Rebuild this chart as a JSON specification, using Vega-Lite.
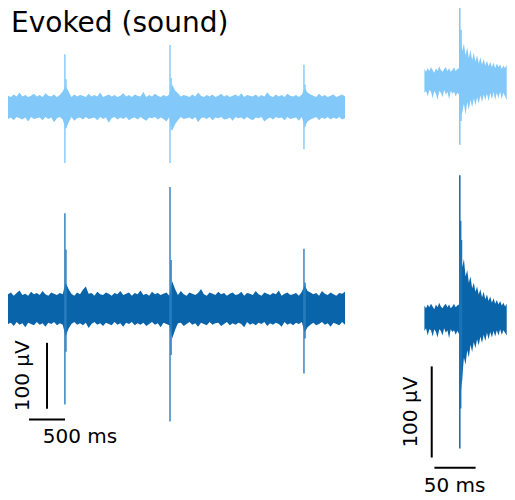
{
  "$schema": "https://vega.github.io/schema/vega-lite/v6.json",
  "padding": {"left": 8, "top": 7, "right": 0, "bottom": 0},
  "config": {"view": {"stroke": null}, "font": "DejaVu Sans"},
  "datasets": {
    "leftLight": [
      {"t":0,"lo":-18,"hi":17},{"t":40,"lo":-16,"hi":15},{"t":80,"lo":-20,"hi":19},{"t":120,"lo":-15,"hi":16},{"t":160,"lo":-17,"hi":22},
      {"t":200,"lo":-19,"hi":16},{"t":240,"lo":-16,"hi":18},{"t":280,"lo":-22,"hi":15},{"t":320,"lo":-15,"hi":17},{"t":360,"lo":-18,"hi":20},
      {"t":400,"lo":-17,"hi":16},{"t":440,"lo":-16,"hi":18},{"t":480,"lo":-20,"hi":15},{"t":520,"lo":-15,"hi":21},{"t":560,"lo":-18,"hi":17},
      {"t":600,"lo":-16,"hi":16},{"t":640,"lo":-23,"hi":19},{"t":680,"lo":-17,"hi":15},{"t":720,"lo":-15,"hi":18},{"t":760,"lo":-19,"hi":24},
      {"t":800,"lo":-34,"hi":32},{"t":840,"lo":-24,"hi":24},{"t":880,"lo":-15,"hi":15},{"t":920,"lo":-21,"hi":19},{"t":960,"lo":-17,"hi":16},
      {"t":1000,"lo":-16,"hi":18},{"t":1040,"lo":-19,"hi":17},{"t":1080,"lo":-15,"hi":15},{"t":1120,"lo":-18,"hi":20},{"t":1160,"lo":-17,"hi":16},
      {"t":1200,"lo":-16,"hi":18},{"t":1240,"lo":-20,"hi":16},{"t":1280,"lo":-15,"hi":22},{"t":1320,"lo":-18,"hi":15},{"t":1360,"lo":-16,"hi":17},
      {"t":1400,"lo":-24,"hi":19},{"t":1440,"lo":-17,"hi":16},{"t":1480,"lo":-15,"hi":18},{"t":1520,"lo":-19,"hi":15},{"t":1560,"lo":-16,"hi":17},
      {"t":1600,"lo":-18,"hi":21},{"t":1640,"lo":-15,"hi":16},{"t":1680,"lo":-20,"hi":18},{"t":1720,"lo":-17,"hi":15},{"t":1760,"lo":-16,"hi":19},
      {"t":1800,"lo":-19,"hi":17},{"t":1840,"lo":-15,"hi":16},{"t":1880,"lo":-18,"hi":23},{"t":1920,"lo":-21,"hi":15},{"t":1960,"lo":-16,"hi":18},
      {"t":2000,"lo":-17,"hi":16},{"t":2040,"lo":-15,"hi":20},{"t":2080,"lo":-19,"hi":17},{"t":2120,"lo":-16,"hi":15},{"t":2160,"lo":-18,"hi":18},
      {"t":2200,"lo":-22,"hi":16},{"t":2240,"lo":-15,"hi":19},{"t":2280,"lo":-36,"hi":34},{"t":2320,"lo":-26,"hi":25},{"t":2360,"lo":-20,"hi":21},
      {"t":2400,"lo":-15,"hi":16},{"t":2440,"lo":-18,"hi":18},{"t":2480,"lo":-17,"hi":17},{"t":2520,"lo":-16,"hi":15},{"t":2560,"lo":-19,"hi":19},
      {"t":2600,"lo":-15,"hi":16},{"t":2640,"lo":-23,"hi":22},{"t":2680,"lo":-17,"hi":17},{"t":2720,"lo":-16,"hi":15},{"t":2760,"lo":-18,"hi":18},
      {"t":2800,"lo":-15,"hi":16},{"t":2840,"lo":-20,"hi":19},{"t":2880,"lo":-16,"hi":15},{"t":2920,"lo":-17,"hi":17},{"t":2960,"lo":-15,"hi":20},
      {"t":3000,"lo":-19,"hi":16},{"t":3040,"lo":-18,"hi":18},{"t":3080,"lo":-16,"hi":15},{"t":3120,"lo":-21,"hi":17},{"t":3160,"lo":-15,"hi":19},
      {"t":3200,"lo":-17,"hi":16},{"t":3240,"lo":-16,"hi":21},{"t":3280,"lo":-19,"hi":15},{"t":3320,"lo":-15,"hi":18},{"t":3360,"lo":-18,"hi":17},
      {"t":3400,"lo":-20,"hi":16},{"t":3440,"lo":-16,"hi":19},{"t":3480,"lo":-17,"hi":15},{"t":3520,"lo":-15,"hi":18},{"t":3560,"lo":-22,"hi":16},
      {"t":3600,"lo":-18,"hi":22},{"t":3640,"lo":-16,"hi":17},{"t":3680,"lo":-19,"hi":15},{"t":3720,"lo":-15,"hi":19},{"t":3760,"lo":-17,"hi":16},
      {"t":3800,"lo":-16,"hi":18},{"t":3840,"lo":-20,"hi":15},{"t":3880,"lo":-15,"hi":20},{"t":3920,"lo":-18,"hi":17},{"t":3960,"lo":-17,"hi":16},
      {"t":4000,"lo":-16,"hi":18},{"t":4040,"lo":-21,"hi":15},{"t":4080,"lo":-15,"hi":19},{"t":4120,"lo":-30,"hi":28},{"t":4160,"lo":-22,"hi":22},
      {"t":4200,"lo":-19,"hi":19},{"t":4240,"lo":-17,"hi":17},{"t":4280,"lo":-15,"hi":15},{"t":4320,"lo":-20,"hi":20},{"t":4360,"lo":-16,"hi":16},
      {"t":4400,"lo":-18,"hi":18},{"t":4440,"lo":-15,"hi":15},{"t":4480,"lo":-19,"hi":17},{"t":4520,"lo":-16,"hi":19},{"t":4560,"lo":-18,"hi":15},
      {"t":4600,"lo":-15,"hi":17},{"t":4640,"lo":-19,"hi":19},{"t":4680,"lo":-17,"hi":16}
    ],
    "leftDark": [
      {"t":0,"lo":-23,"hi":22},{"t":40,"lo":-21,"hi":25},{"t":80,"lo":-26,"hi":20},{"t":120,"lo":-20,"hi":24},{"t":160,"lo":-24,"hi":28},
      {"t":200,"lo":-22,"hi":21},{"t":240,"lo":-28,"hi":23},{"t":280,"lo":-21,"hi":20},{"t":320,"lo":-23,"hi":26},{"t":360,"lo":-25,"hi":22},
      {"t":400,"lo":-20,"hi":24},{"t":440,"lo":-24,"hi":21},{"t":480,"lo":-22,"hi":27},{"t":520,"lo":-27,"hi":22},{"t":560,"lo":-21,"hi":20},
      {"t":600,"lo":-23,"hi":25},{"t":640,"lo":-20,"hi":23},{"t":680,"lo":-25,"hi":21},{"t":720,"lo":-22,"hi":24},{"t":760,"lo":-24,"hi":22},
      {"t":800,"lo":-42,"hi":40},{"t":840,"lo":-30,"hi":30},{"t":880,"lo":-23,"hi":23},{"t":920,"lo":-20,"hi":20},{"t":960,"lo":-24,"hi":25},
      {"t":1000,"lo":-22,"hi":22},{"t":1040,"lo":-25,"hi":29},{"t":1080,"lo":-21,"hi":34},{"t":1120,"lo":-29,"hi":23},{"t":1160,"lo":-23,"hi":24},
      {"t":1200,"lo":-20,"hi":20},{"t":1240,"lo":-24,"hi":26},{"t":1280,"lo":-22,"hi":22},{"t":1320,"lo":-26,"hi":21},{"t":1360,"lo":-21,"hi":25},
      {"t":1400,"lo":-23,"hi":23},{"t":1440,"lo":-25,"hi":20},{"t":1480,"lo":-20,"hi":24},{"t":1520,"lo":-24,"hi":22},{"t":1560,"lo":-22,"hi":27},
      {"t":1600,"lo":-27,"hi":21},{"t":1640,"lo":-21,"hi":23},{"t":1680,"lo":-23,"hi":25},{"t":1720,"lo":-20,"hi":20},{"t":1760,"lo":-25,"hi":24},
      {"t":1800,"lo":-22,"hi":22},{"t":1840,"lo":-24,"hi":28},{"t":1880,"lo":-21,"hi":21},{"t":1920,"lo":-26,"hi":23},{"t":1960,"lo":-23,"hi":20},
      {"t":2000,"lo":-20,"hi":26},{"t":2040,"lo":-24,"hi":22},{"t":2080,"lo":-22,"hi":24},{"t":2120,"lo":-28,"hi":21},{"t":2160,"lo":-21,"hi":23},
      {"t":2200,"lo":-23,"hi":25},{"t":2240,"lo":-25,"hi":20},{"t":2280,"lo":-45,"hi":42},{"t":2320,"lo":-32,"hi":30},{"t":2360,"lo":-22,"hi":21},
      {"t":2400,"lo":-21,"hi":27},{"t":2440,"lo":-26,"hi":22},{"t":2480,"lo":-23,"hi":20},{"t":2520,"lo":-20,"hi":25},{"t":2560,"lo":-24,"hi":23},
      {"t":2600,"lo":-22,"hi":21},{"t":2640,"lo":-27,"hi":24},{"t":2680,"lo":-21,"hi":30},{"t":2720,"lo":-23,"hi":22},{"t":2760,"lo":-25,"hi":20},
      {"t":2800,"lo":-20,"hi":25},{"t":2840,"lo":-24,"hi":23},{"t":2880,"lo":-22,"hi":21},{"t":2920,"lo":-21,"hi":26},{"t":2960,"lo":-26,"hi":22},
      {"t":3000,"lo":-23,"hi":24},{"t":3040,"lo":-20,"hi":20},{"t":3080,"lo":-25,"hi":23},{"t":3120,"lo":-22,"hi":25},{"t":3160,"lo":-24,"hi":21},
      {"t":3200,"lo":-21,"hi":22},{"t":3240,"lo":-23,"hi":26},{"t":3280,"lo":-28,"hi":20},{"t":3320,"lo":-20,"hi":24},{"t":3360,"lo":-24,"hi":23},
      {"t":3400,"lo":-22,"hi":21},{"t":3440,"lo":-25,"hi":27},{"t":3480,"lo":-21,"hi":22},{"t":3520,"lo":-23,"hi":20},{"t":3560,"lo":-20,"hi":25},
      {"t":3600,"lo":-26,"hi":23},{"t":3640,"lo":-22,"hi":21},{"t":3680,"lo":-24,"hi":24},{"t":3720,"lo":-21,"hi":22},{"t":3760,"lo":-23,"hi":28},
      {"t":3800,"lo":-27,"hi":20},{"t":3840,"lo":-20,"hi":23},{"t":3880,"lo":-24,"hi":25},{"t":3920,"lo":-22,"hi":21},{"t":3960,"lo":-25,"hi":22},
      {"t":4000,"lo":-21,"hi":24},{"t":4040,"lo":-23,"hi":20},{"t":4080,"lo":-20,"hi":26},{"t":4120,"lo":-36,"hi":36},{"t":4160,"lo":-28,"hi":27},
      {"t":4200,"lo":-24,"hi":25},{"t":4240,"lo":-21,"hi":22},{"t":4280,"lo":-25,"hi":24},{"t":4320,"lo":-23,"hi":20},{"t":4360,"lo":-20,"hi":27},
      {"t":4400,"lo":-24,"hi":23},{"t":4440,"lo":-22,"hi":21},{"t":4480,"lo":-27,"hi":25},{"t":4520,"lo":-21,"hi":22},{"t":4560,"lo":-23,"hi":20},
      {"t":4600,"lo":-25,"hi":24},{"t":4640,"lo":-20,"hi":23},{"t":4680,"lo":-24,"hi":26}
    ],
    "leftSpikes": [
      {"trace":"light","t":790,"lo":-85,"hi":80},{"trace":"light","t":805,"lo":-32,"hi":42},
      {"trace":"light","t":2250,"lo":-85,"hi":94},{"trace":"light","t":2265,"lo":-35,"hi":44},
      {"trace":"light","t":4110,"lo":-64,"hi":64},{"trace":"light","t":4125,"lo":-30,"hi":34},
      {"trace":"dark","t":790,"lo":-145,"hi":145},{"trace":"dark","t":805,"lo":-65,"hi":90},
      {"trace":"dark","t":2250,"lo":-171,"hi":185},{"trace":"dark","t":2265,"lo":-70,"hi":74},
      {"trace":"dark","t":4110,"lo":-98,"hi":91},{"trace":"dark","t":4125,"lo":-45,"hi":40}
    ],
    "rightLight": [
      {"t":0,"lo":-14,"hi":12},{"t":2,"lo":-12,"hi":9},{"t":4,"lo":-18,"hi":13},{"t":6,"lo":-11,"hi":10},{"t":8,"lo":-13,"hi":14},
      {"t":10,"lo":-20,"hi":11},{"t":12,"lo":-12,"hi":8},{"t":14,"lo":-15,"hi":13},{"t":16,"lo":-22,"hi":10},{"t":18,"lo":-12,"hi":15},
      {"t":20,"lo":-14,"hi":11},{"t":22,"lo":-19,"hi":9},{"t":24,"lo":-11,"hi":12},{"t":26,"lo":-16,"hi":14},{"t":28,"lo":-13,"hi":10},
      {"t":30,"lo":-21,"hi":13},{"t":32,"lo":-12,"hi":9},{"t":34,"lo":-15,"hi":11},{"t":36,"lo":-13,"hi":14},{"t":38,"lo":-18,"hi":10},
      {"t":40,"lo":-14,"hi":12},{"t":42,"lo":-16,"hi":13},{"t":44,"lo":-40,"hi":48},{"t":46,"lo":-36,"hi":32},{"t":48,"lo":-26,"hi":40},
      {"t":50,"lo":-38,"hi":27},{"t":52,"lo":-24,"hi":36},{"t":54,"lo":-33,"hi":24},{"t":56,"lo":-22,"hi":33},{"t":58,"lo":-30,"hi":22},
      {"t":60,"lo":-20,"hi":30},{"t":62,"lo":-28,"hi":20},{"t":64,"lo":-19,"hi":27},{"t":66,"lo":-26,"hi":18},{"t":68,"lo":-17,"hi":25},
      {"t":70,"lo":-24,"hi":17},{"t":72,"lo":-16,"hi":23},{"t":74,"lo":-22,"hi":16},{"t":76,"lo":-15,"hi":21},{"t":78,"lo":-23,"hi":15},
      {"t":80,"lo":-14,"hi":20},{"t":82,"lo":-21,"hi":14},{"t":84,"lo":-13,"hi":19},{"t":86,"lo":-22,"hi":13},{"t":88,"lo":-14,"hi":18},
      {"t":90,"lo":-20,"hi":14},{"t":92,"lo":-13,"hi":17},{"t":94,"lo":-21,"hi":12},{"t":96,"lo":-14,"hi":16},{"t":98,"lo":-18,"hi":13},
      {"t":100,"lo":-22,"hi":17}
    ],
    "rightDark": [
      {"t":0,"lo":-15,"hi":13},{"t":2,"lo":-12,"hi":10},{"t":4,"lo":-20,"hi":14},{"t":6,"lo":-13,"hi":11},{"t":8,"lo":-14,"hi":15},
      {"t":10,"lo":-21,"hi":12},{"t":12,"lo":-13,"hi":9},{"t":14,"lo":-16,"hi":14},{"t":16,"lo":-22,"hi":11},{"t":18,"lo":-13,"hi":16},
      {"t":20,"lo":-15,"hi":12},{"t":22,"lo":-20,"hi":10},{"t":24,"lo":-12,"hi":13},{"t":26,"lo":-17,"hi":15},{"t":28,"lo":-14,"hi":11},
      {"t":30,"lo":-23,"hi":14},{"t":32,"lo":-13,"hi":10},{"t":34,"lo":-16,"hi":12},{"t":36,"lo":-14,"hi":15},{"t":38,"lo":-19,"hi":11},
      {"t":40,"lo":-15,"hi":13},{"t":42,"lo":-18,"hi":14},{"t":44,"lo":-85,"hi":80},{"t":46,"lo":-66,"hi":55},{"t":48,"lo":-44,"hi":64},
      {"t":50,"lo":-52,"hi":45},{"t":52,"lo":-36,"hi":52},{"t":54,"lo":-44,"hi":38},{"t":56,"lo":-30,"hi":45},{"t":58,"lo":-38,"hi":32},
      {"t":60,"lo":-27,"hi":38},{"t":62,"lo":-34,"hi":28},{"t":64,"lo":-24,"hi":34},{"t":66,"lo":-31,"hi":25},{"t":68,"lo":-21,"hi":31},
      {"t":70,"lo":-28,"hi":22},{"t":72,"lo":-19,"hi":28},{"t":74,"lo":-26,"hi":20},{"t":76,"lo":-17,"hi":25},{"t":78,"lo":-24,"hi":18},
      {"t":80,"lo":-16,"hi":23},{"t":82,"lo":-22,"hi":16},{"t":84,"lo":-15,"hi":21},{"t":86,"lo":-21,"hi":15},{"t":88,"lo":-14,"hi":19},
      {"t":90,"lo":-20,"hi":14},{"t":92,"lo":-13,"hi":18},{"t":94,"lo":-19,"hi":13},{"t":96,"lo":-14,"hi":16},{"t":98,"lo":-17,"hi":12},
      {"t":100,"lo":-20,"hi":15}
    ],
    "rightSpikes": [
      {"trace":"light","t":43,"lo":-71,"hi":79},{"trace":"light","t":44.5,"lo":-45,"hi":55},
      {"trace":"dark","t":43,"lo":-144,"hi":156},{"trace":"dark","t":44,"lo":-100,"hi":106},{"trace":"dark","t":45,"lo":-70,"hi":85}
    ]
  },
  "hconcat": [
    {
      "spacing": 10.6,
      "vconcat": [
        {
          "title": {"text": "Evoked (sound)", "anchor": "start", "fontSize": 28, "fontWeight": "normal", "font": "DejaVu Sans", "color": "#000000", "offset": -31, "dx": 3},
          "width": 337,
          "height": 166,
          "layer": [
            {
              "data": {"name": "leftLight"},
              "mark": {"type": "area", "color": "#82c9fa", "opacity": 1},
              "encoding": {
                "x": {"field": "t", "type": "quantitative", "scale": {"domain": [0, 4680], "nice": false, "zero": false}, "axis": null},
                "y": {"field": "lo", "type": "quantitative", "scale": {"domain": [-100, 151.5], "nice": false, "zero": false}, "axis": null},
                "y2": {"field": "hi"}
              }
            },
            {
              "data": {"name": "leftSpikes"},
              "transform": [{"filter": "datum.trace === 'light'"}],
              "mark": {"type": "rule", "color": "#82c9fa", "strokeWidth": 1.4},
              "encoding": {
                "x": {"field": "t", "type": "quantitative", "scale": {"domain": [0, 4680], "nice": false, "zero": false}, "axis": null},
                "y": {"field": "lo", "type": "quantitative", "scale": {"domain": [-100, 151.5], "nice": false, "zero": false}, "axis": null},
                "y2": {"field": "hi"}
              }
            }
          ]
        },
        {
          "width": 337,
          "height": 267,
          "layer": [
            {
              "data": {"name": "leftDark"},
              "mark": {"type": "area", "color": "#0a64aa", "opacity": 1},
              "encoding": {
                "x": {"field": "t", "type": "quantitative", "scale": {"domain": [0, 4680], "nice": false, "zero": false}, "axis": null},
                "y": {"field": "lo", "type": "quantitative", "scale": {"domain": [-215, 190], "nice": false, "zero": false}, "axis": null},
                "y2": {"field": "hi"}
              }
            },
            {
              "data": {"name": "leftSpikes"},
              "transform": [{"filter": "datum.trace === 'dark'"}],
              "mark": {"type": "rule", "color": "#2a7fc0", "strokeWidth": 1.4},
              "encoding": {
                "x": {"field": "t", "type": "quantitative", "scale": {"domain": [0, 4680], "nice": false, "zero": false}, "axis": null},
                "y": {"field": "lo", "type": "quantitative", "scale": {"domain": [-215, 190], "nice": false, "zero": false}, "axis": null},
                "y2": {"field": "hi"}
              }
            },
            {
              "data": {"values": [{"t": 542, "t2": 542, "v": -51.5, "v2": -151.5}, {"t": 292, "t2": 792, "v": -168, "v2": -168}]},
              "mark": {"type": "rule", "color": "#000000", "strokeWidth": 2},
              "encoding": {
                "x": {"field": "t", "type": "quantitative", "scale": {"domain": [0, 4680], "nice": false, "zero": false}, "axis": null},
                "x2": {"field": "t2"},
                "y": {"field": "v", "type": "quantitative", "scale": {"domain": [-215, 190], "nice": false, "zero": false}, "axis": null},
                "y2": {"field": "v2"}
              }
            },
            {
              "data": {"values": [{"t": 1000, "v": -194, "label": "500 ms"}]},
              "mark": {"type": "text", "font": "DejaVu Sans", "fontSize": 20, "color": "#000000", "align": "center", "baseline": "middle"},
              "encoding": {
                "x": {"field": "t", "type": "quantitative", "scale": {"domain": [0, 4680], "nice": false, "zero": false}, "axis": null},
                "y": {"field": "v", "type": "quantitative", "scale": {"domain": [-215, 190], "nice": false, "zero": false}, "axis": null},
                "text": {"field": "label"}
              }
            },
            {
              "data": {"values": [{"t": 208, "v": -101.5, "label": "100 µV"}]},
              "mark": {"type": "text", "font": "DejaVu Sans", "fontSize": 20, "color": "#000000", "align": "center", "baseline": "middle", "angle": 270},
              "encoding": {
                "x": {"field": "t", "type": "quantitative", "scale": {"domain": [0, 4680], "nice": false, "zero": false}, "axis": null},
                "y": {"field": "v", "type": "quantitative", "scale": {"domain": [-215, 190], "nice": false, "zero": false}, "axis": null},
                "text": {"field": "label"}
              }
            }
          ]
        }
      ]
    },
    {
      "spacing": 18.6,
      "vconcat": [
        {
          "width": 107,
          "height": 146,
          "layer": [
            {
              "data": {"name": "rightLight"},
              "mark": {"type": "area", "color": "#82c9fa", "opacity": 1},
              "encoding": {
                "x": {"field": "t", "type": "quantitative", "scale": {"domain": [-26, 104], "nice": false, "zero": false}, "axis": null},
                "y": {"field": "lo", "type": "quantitative", "scale": {"domain": [-80, 80], "nice": false, "zero": false}, "axis": null},
                "y2": {"field": "hi"}
              }
            },
            {
              "data": {"name": "rightSpikes"},
              "transform": [{"filter": "datum.trace === 'light'"}],
              "mark": {"type": "rule", "color": "#82c9fa", "strokeWidth": 1.6},
              "encoding": {
                "x": {"field": "t", "type": "quantitative", "scale": {"domain": [-26, 104], "nice": false, "zero": false}, "axis": null},
                "y": {"field": "lo", "type": "quantitative", "scale": {"domain": [-80, 80], "nice": false, "zero": false}, "axis": null},
                "y2": {"field": "hi"}
              }
            }
          ]
        },
        {
          "width": 107,
          "height": 328,
          "layer": [
            {
              "data": {"name": "rightDark"},
              "mark": {"type": "area", "color": "#0a64aa", "opacity": 1},
              "encoding": {
                "x": {"field": "t", "type": "quantitative", "scale": {"domain": [-26, 104], "nice": false, "zero": false}, "axis": null},
                "y": {"field": "lo", "type": "quantitative", "scale": {"domain": [-200, 160], "nice": false, "zero": false}, "axis": null},
                "y2": {"field": "hi"}
              }
            },
            {
              "data": {"name": "rightSpikes"},
              "transform": [{"filter": "datum.trace === 'dark'"}],
              "mark": {"type": "rule", "color": "#1a72b6", "strokeWidth": 1.6},
              "encoding": {
                "x": {"field": "t", "type": "quantitative", "scale": {"domain": [-26, 104], "nice": false, "zero": false}, "axis": null},
                "y": {"field": "lo", "type": "quantitative", "scale": {"domain": [-200, 160], "nice": false, "zero": false}, "axis": null},
                "y2": {"field": "hi"}
              }
            },
            {
              "data": {"values": [{"t": 8.9, "t2": 8.9, "v": -53.8, "v2": -153.8}, {"t": 12.2, "t2": 62.2, "v": -165, "v2": -165}]},
              "mark": {"type": "rule", "color": "#000000", "strokeWidth": 2},
              "encoding": {
                "x": {"field": "t", "type": "quantitative", "scale": {"domain": [-26, 104], "nice": false, "zero": false}, "axis": null},
                "x2": {"field": "t2"},
                "y": {"field": "v", "type": "quantitative", "scale": {"domain": [-200, 160], "nice": false, "zero": false}, "axis": null},
                "y2": {"field": "v2"}
              }
            },
            {
              "data": {"values": [{"t": 36.6, "v": -184.6, "label": "50 ms"}]},
              "mark": {"type": "text", "font": "DejaVu Sans", "fontSize": 20, "color": "#000000", "align": "center", "baseline": "middle"},
              "encoding": {
                "x": {"field": "t", "type": "quantitative", "scale": {"domain": [-26, 104], "nice": false, "zero": false}, "axis": null},
                "y": {"field": "v", "type": "quantitative", "scale": {"domain": [-200, 160], "nice": false, "zero": false}, "axis": null},
                "text": {"field": "label"}
              }
            },
            {
              "data": {"values": [{"t": -15.9, "v": -104, "label": "100 µV"}]},
              "mark": {"type": "text", "font": "DejaVu Sans", "fontSize": 20, "color": "#000000", "align": "center", "baseline": "middle", "angle": 270},
              "encoding": {
                "x": {"field": "t", "type": "quantitative", "scale": {"domain": [-26, 104], "nice": false, "zero": false}, "axis": null},
                "y": {"field": "v", "type": "quantitative", "scale": {"domain": [-200, 160], "nice": false, "zero": false}, "axis": null},
                "text": {"field": "label"}
              }
            }
          ]
        }
      ]
    }
  ],
  "spacing": 56
}
